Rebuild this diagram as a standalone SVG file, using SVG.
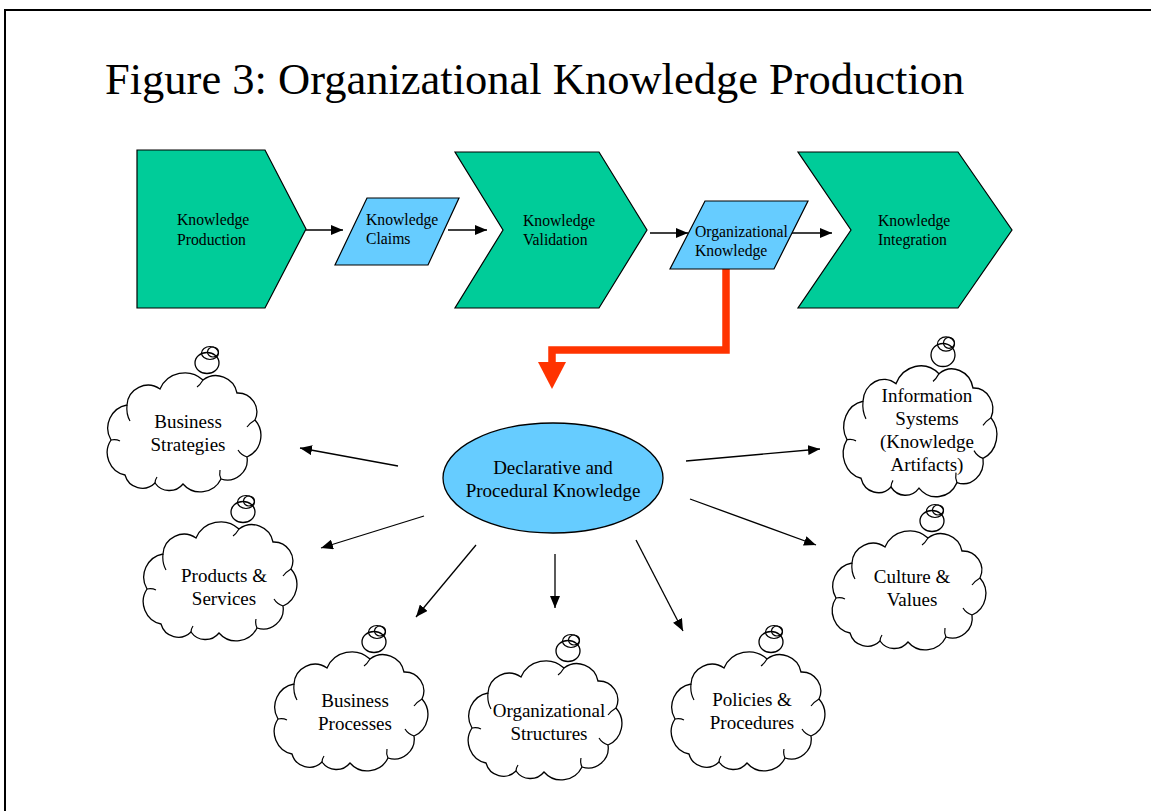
<svg xmlns="http://www.w3.org/2000/svg" xmlns:xlink="http://www.w3.org/1999/xlink" width="1151" height="811" viewBox="0 0 1151 811">
<style>
.chev{fill:#00CC99;stroke:#000;stroke-width:1.2}
.para{fill:#66CCFF;stroke:#000;stroke-width:1.2}
.st{font-family:"Liberation Serif","Times New Roman",serif;font-size:15.7px;fill:#000}
.ct{font-family:"Liberation Serif","Times New Roman",serif;font-size:19px;fill:#000;text-anchor:middle}
.cl{fill:#fff;stroke:#000;stroke-width:1.3}
.hk{fill:none;stroke:#000;stroke-width:1.2}
.conn{stroke:#000;stroke-width:1.3;fill:none;marker-end:url(#ah)}
</style>
<defs>
<marker id="ah" viewBox="0 0 12 10" refX="12" refY="5" markerWidth="12" markerHeight="10" markerUnits="userSpaceOnUse" orient="auto"><path d="M0,0 L12,5 L0,10 z" fill="#000"/></marker>
<g id="cloud">
<path class="cl" d="M22,32 A21,21 0 0 1 55,16 A27,27 0 0 1 98,7 A21.5,21.5 0 0 1 132,20 A19,19 0 0 1 150,47 A23.5,23.5 0 0 1 142,84 A20,20 0 0 1 116,106 A23,23 0 0 1 78,111 A17.5,17.5 0 0 1 50,110 A18,18 0 0 1 20,102 A23,23 0 0 1 6,67 A23.5,23.5 0 0 1 22,32 Z"/>
<path class="hk" d="M22,32 q-1,9 3,16 M98,7 q-3,5 -6,7 M150,47 q-5,3 -8,7 M142,84 q-6,-2 -9,-7 M116,106 q-2,-4 -1,-9 M50,110 q0,-3 2,-6 M6,67 q5,-1 9,1"/>
<ellipse class="cl" cx="102" cy="-10" rx="12" ry="10.5"/>
<ellipse class="hk" cx="105" cy="-20" rx="8.5" ry="6.5"/>
<ellipse class="hk" cx="108" cy="-21" rx="5.5" ry="5"/>
</g>
</defs>
<rect x="0" y="0" width="1151" height="811" fill="#fff"/>
<path d="M5,811 V10 H1151" fill="none" stroke="#000" stroke-width="2"/>
<text x="105" y="94" font-family="'Liberation Serif','Times New Roman',serif" font-size="44.5px">Figure 3: Organizational Knowledge Production</text>

<g id="connectors">
<line class="conn" x1="306" y1="230" x2="343" y2="230"/>
<line class="conn" x1="448" y1="230" x2="487" y2="230"/>
<line class="conn" x1="650" y1="233" x2="688" y2="233"/>
<line class="conn" x1="792" y1="233" x2="832" y2="233"/>
<path d="M726,269 V350 H552 V363" fill="none" stroke="#FF3300" stroke-width="7.5"/>
<polygon points="538,362 566,362 552,389" fill="#FF3300"/>
<line class="conn" x1="398" y1="466" x2="300" y2="448"/>
<line class="conn" x1="424" y1="516" x2="321" y2="548"/>
<line class="conn" x1="476" y1="545" x2="416" y2="617"/>
<line class="conn" x1="555" y1="554" x2="555" y2="608"/>
<line class="conn" x1="636" y1="540" x2="683" y2="631"/>
<line class="conn" x1="686" y1="461" x2="820" y2="449"/>
<line class="conn" x1="690" y1="499" x2="816" y2="545"/>
</g>

<g id="knowledge-production">
<polygon class="chev" points="137,150 265,150 306,229 265,308 137,308"/>
<text class="st" x="177" y="225">Knowledge</text>
<text class="st" x="177" y="245">Production</text>
</g>
<g id="knowledge-claims">
<polygon class="para" points="367,198 459,198 428,265 335,265"/>
<text class="st" x="366" y="225">Knowledge</text>
<text class="st" x="366" y="244">Claims</text>
</g>
<g id="knowledge-validation">
<polygon class="chev" points="455,152 599,152 647,230 599,308 455,308 503,230"/>
<text class="st" x="523" y="226">Knowledge</text>
<text class="st" x="523" y="245">Validation</text>
</g>
<g id="organizational-knowledge">
<polygon class="para" points="705,201 808,201 774,269 670,269"/>
<text class="st" x="695" y="237">Organizational</text>
<text class="st" x="695" y="256">Knowledge</text>
</g>
<g id="knowledge-integration">
<polygon class="chev" points="798,152 958,152 1012,230 958,308 798,308 851,230"/>
<text class="st" x="878" y="226">Knowledge</text>
<text class="st" x="878" y="245">Integration</text>
</g>

<g id="declarative-procedural">
<ellipse cx="553" cy="478" rx="110" ry="55" fill="#66CCFF" stroke="#000" stroke-width="1.3"/>
<text class="ct" x="553" y="474">Declarative and</text>
<text class="ct" x="553" y="497">Procedural Knowledge</text>
</g>

<g id="business-strategies">
<use xlink:href="#cloud" x="105" y="373"/>
<text class="ct" x="188" y="428">Business</text>
<text class="ct" x="188" y="451">Strategies</text>
</g>
<g id="products-services">
<use xlink:href="#cloud" x="141" y="522"/>
<text class="ct" x="224" y="582">Products &amp;</text>
<text class="ct" x="224" y="605">Services</text>
</g>
<g id="business-processes">
<use xlink:href="#cloud" x="272" y="652"/>
<text class="ct" x="355" y="707">Business</text>
<text class="ct" x="355" y="730">Processes</text>
</g>
<g id="organizational-structures">
<use xlink:href="#cloud" x="466" y="661"/>
<text class="ct" x="549" y="717">Organizational</text>
<text class="ct" x="549" y="740">Structures</text>
</g>
<g id="policies-procedures">
<use xlink:href="#cloud" x="669" y="652"/>
<text class="ct" x="752" y="706">Policies &amp;</text>
<text class="ct" x="752" y="729">Procedures</text>
</g>
<g id="information-systems">
<use xlink:href="#cloud" transform="translate(841,366) scale(1,1.1)"/>
<text class="ct" x="927" y="402">Information</text>
<text class="ct" x="927" y="425">Systems</text>
<text class="ct" x="927" y="448">(Knowledge</text>
<text class="ct" x="927" y="471">Artifacts)</text>
</g>
<g id="culture-values">
<use xlink:href="#cloud" x="830" y="531"/>
<text class="ct" x="912" y="583">Culture &amp;</text>
<text class="ct" x="912" y="606">Values</text>
</g>
</svg>
